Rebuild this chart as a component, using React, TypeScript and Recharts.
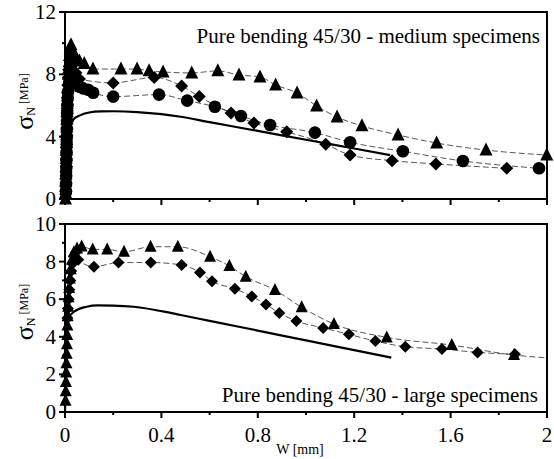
import React from 'react';
import { ComposedChart, Line, Scatter, XAxis, YAxis, ReferenceArea, Label } from 'recharts';

type P = { w: number; s: number };
const pts = (a: number[][]): P[] => a.map(([w, s]) => ({ w, s }));

const FONT = "'Liberation Serif', 'Times New Roman', serif";

// ---- axes ----
const xTicks = [0, 0.2, 0.4, 0.6, 0.8, 1, 1.2, 1.4, 1.6, 1.8, 2];
const xMajor = [0, 0.4, 0.8, 1.2, 1.6, 2];
const xLabels = ['0', '0.4', '0.8', '1.2', '1.6', '2'];
const topYTicks = [0, 2, 4, 6, 8, 10, 12];
const topYMajor = [0, 4, 8, 12];
const botYTicks = [0, 1, 2, 3, 4, 5, 6, 7, 8, 9, 10];
const botYMajor = [0, 2, 4, 6, 8, 10];

// ---- top panel: medium specimens ----
const topTriangles = pts([
  [0.002, 0.0], [0.0025, 0.4], [0.003, 0.8], [0.0035, 1.2], [0.004, 1.6], [0.0045, 2.0], [0.005, 2.4],
  [0.0055, 2.8], [0.006, 3.2], [0.0065, 3.6], [0.007, 4.0], [0.0075, 4.4], [0.008, 4.8], [0.0085, 5.2],
  [0.009, 5.6], [0.0095, 6.0], [0.010, 6.4], [0.011, 6.8], [0.012, 7.2], [0.013, 7.6], [0.014, 8.0],
  [0.0155, 8.4], [0.017, 8.8], [0.019, 9.2], [0.0215, 9.6], [0.025, 9.9], [0.032, 9.5],
  [0.045, 9.1], [0.06, 8.85], [0.08, 8.7], [0.116, 8.34], [0.232, 8.34], [0.299, 8.34], [0.349, 8.22],
  [0.407, 8.15], [0.526, 8.09], [0.634, 8.22], [0.722, 7.96], [0.809, 7.83], [0.874, 7.32],
  [0.963, 6.8], [1.044, 5.97], [1.129, 5.26], [1.232, 4.69], [1.382, 4.11], [1.542, 3.59],
  [1.747, 3.14], [1.999, 2.82],
]);
const topDiamonds = pts([
  [0.003, 0.3], [0.0035, 0.8], [0.004, 1.3], [0.0045, 1.8], [0.005, 2.3], [0.0055, 2.8], [0.006, 3.3],
  [0.0065, 3.8], [0.007, 4.3], [0.0075, 4.8], [0.008, 5.3], [0.009, 5.8], [0.010, 6.3], [0.011, 6.8],
  [0.012, 7.3], [0.0135, 7.8], [0.015, 8.3], [0.02, 8.9], [0.03, 8.6], [0.045, 8.1], [0.06, 7.7],
  [0.2, 7.45], [0.37, 7.8], [0.484, 7.25], [0.557, 6.57], [0.689, 5.52], [0.784, 4.88], [0.92, 4.32],
  [1.082, 3.51], [1.183, 2.82], [1.357, 2.46], [1.539, 2.25], [1.833, 1.97],
]);
const topCircles = pts([
  [0.004, 0.5], [0.0045, 1.0], [0.005, 1.5], [0.0055, 2.0], [0.006, 2.5], [0.0065, 3.0], [0.007, 3.5],
  [0.0075, 4.0], [0.008, 4.5], [0.0085, 5.0], [0.009, 5.5], [0.010, 6.0], [0.0115, 6.5], [0.013, 6.9],
  [0.018, 7.5], [0.026, 7.7], [0.04, 7.4], [0.06, 7.2], [0.075, 7.1], [0.097, 7.0], [0.117, 6.82],
  [0.2, 6.57], [0.39, 6.7], [0.507, 6.31], [0.622, 5.92], [0.73, 5.33], [0.851, 4.75],
  [1.037, 4.26], [1.183, 3.64], [1.402, 3.06], [1.651, 2.44], [1.967, 1.97],
]);
const topModel = pts([
  [0, 0], [0.01, 3.0], [0.02, 4.6], [0.035, 5.1], [0.06, 5.35], [0.1, 5.55], [0.15, 5.62], [0.2, 5.63],
  [0.3, 5.58], [0.4, 5.45], [0.48, 5.28], [0.6, 4.93], [0.8, 4.37], [1.0, 3.8], [1.2, 3.24], [1.349, 2.82],
]);

// ---- bottom panel: large specimens ----
const botTriangles = pts([
  [0.002, 0.6], [0.003, 1.1], [0.004, 1.6], [0.005, 2.1], [0.006, 2.6], [0.007, 3.1], [0.008, 3.6],
  [0.009, 4.1], [0.010, 4.6], [0.011, 5.1], [0.013, 5.6], [0.015, 6.1], [0.017, 6.6], [0.020, 7.1],
  [0.024, 7.6], [0.029, 8.1], [0.037, 8.5], [0.05, 8.7], [0.069, 8.8], [0.115, 8.65], [0.175, 8.65],
  [0.245, 8.52], [0.355, 8.79], [0.468, 8.79], [0.602, 8.26], [0.682, 7.77], [0.75, 7.2],
  [0.871, 6.49], [0.982, 5.57], [1.116, 4.68], [1.335, 3.97], [1.605, 3.56], [1.863, 3.03],
]);
const botTriangleTail = pts([[2, 2.88]]);
const botDiamonds = pts([
  [0.010, 5.0], [0.012, 5.5], [0.015, 6.0], [0.018, 6.5], [0.022, 7.0], [0.026, 7.5], [0.031, 7.9],
  [0.038, 8.3], [0.045, 8.5], [0.055, 8.1], [0.12, 7.73], [0.222, 7.95], [0.356, 7.95], [0.484, 7.82],
  [0.56, 7.42], [0.61, 6.95], [0.705, 6.55], [0.775, 6.15], [0.834, 5.72], [0.889, 5.27], [0.96, 4.84],
  [1.071, 4.47], [1.178, 4.13], [1.288, 3.77], [1.412, 3.47], [1.564, 3.35], [1.712, 3.17], [1.867, 3.07],
]);
const botModel = pts([
  [0, 0], [0.005, 3.0], [0.011, 4.95], [0.045, 5.4], [0.09, 5.6], [0.135, 5.67], [0.2, 5.66],
  [0.285, 5.6], [0.424, 5.31], [0.48, 5.16], [0.6, 4.85], [0.8, 4.33], [1.0, 3.81], [1.2, 3.29], [1.354, 2.89],
]);

const TS = 5;
const TM = 3;
const isIn = (arr: number[], v: number) => arr.findIndex((a) => Math.abs(a - v) < 1e-6);

const XTick = (props: any) => {
  const { x, y, payload, showLabel } = props;
  const i = isIn(xMajor, payload.value);
  const y0 = y - TS - TM;
  return (
    <g>
      <line x1={x} x2={x} y1={y0} y2={y0 + (i >= 0 ? 6 : 3)} stroke="#000" strokeWidth={2} />
      {showLabel && i >= 0 && (
        <text x={x} y={y0 + 30} textAnchor="middle" fontSize={21} fontFamily={FONT} fill="#000">
          {xLabels[i]}
        </text>
      )}
    </g>
  );
};

const YTick = (props: any) => {
  const { x, y, payload, majors } = props;
  const major = isIn(majors, payload.value) >= 0;
  const ax = x + TS + TM;
  return (
    <g>
      <line x1={ax} x2={ax - (major ? 6 : 3)} y1={y} y2={y} stroke="#000" strokeWidth={2} />
      {major && (
        <text x={ax - 9} y={y + 7} textAnchor="end" fontSize={21} fontFamily={FONT} fill="#000">
          {payload.value}
        </text>
      )}
    </g>
  );
};

const YLabel = (props: any) => {
  const vb = props.viewBox || { x: 0, y: 0, width: 65, height: 187 };
  const cx = 33;
  const cy = vb.y + vb.height / 2 + (props.shift || 0);
  return (
    <text transform={`rotate(-90, ${cx}, ${cy})`} x={cx} y={cy} textAnchor="middle" fontFamily={FONT} fill="#000">
      <tspan fontSize={26}>σ</tspan>
      <tspan fontSize={12} dy={2}>N</tspan>
      <tspan fontSize={12} dy={-7}> [MPa]</tspan>
    </text>
  );
};

const XLabel = (props: any) => {
  const vb = props.viewBox || { x: 65, y: 412, width: 482, height: 47 };
  return (
    <text x={vb.x + vb.width / 2 - 6} y={vb.y + 42} textAnchor="middle" fontSize={14} fontFamily={FONT} fill="#000">
      W [mm]
    </text>
  );
};

const Tri = (size: number) => (p: any) => {
  const { cx, cy } = p;
  if (cx == null || cy == null) return <g />;
  const h = size;
  return (
    <polygon
      points={`${cx},${cy - h * 0.58} ${cx + h * 0.5},${cy + h * 0.42} ${cx - h * 0.5},${cy + h * 0.42}`}
      fill="#000"
    />
  );
};
const Dia = (r: number) => (p: any) => {
  const { cx, cy } = p;
  if (cx == null || cy == null) return <g />;
  return <polygon points={`${cx},${cy - r} ${cx + r},${cy} ${cx},${cy + r} ${cx - r},${cy}`} fill="#000" />;
};
const Cir = (r: number) => (p: any) => {
  const { cx, cy } = p;
  if (cx == null || cy == null) return <g />;
  return <circle cx={cx} cy={cy} r={r} fill="#000" />;
};

const dashProps = {
  type: 'monotone' as const,
  dataKey: 's',
  stroke: '#444',
  strokeWidth: 0.9,
  strokeDasharray: '6 3',
  dot: false,
  activeDot: false,
  isAnimationActive: false,
};

const W = 554;

export default function App() {
  return (
    <div style={{ position: 'absolute', left: 0, top: 0, width: W, height: 459, background: '#fff' }}>
      <div style={{ position: 'absolute', left: 0, top: 0 }}>
        <ComposedChart width={W} height={212} margin={{ top: 12, right: 7, bottom: 0, left: 0 }}>
          <XAxis
            type="number"
            dataKey="w"
            domain={[0, 2]}
            ticks={xTicks}
            height={13}
            tickSize={TS}
            tickMargin={TM}
            tickLine={false}
            axisLine={{ stroke: '#000', strokeWidth: 2 }}
            tick={(p: any) => <XTick {...p} showLabel={false} />}
            interval={0}
          />
          <YAxis
            type="number"
            dataKey="s"
            domain={[0, 12]}
            ticks={topYTicks}
            width={65}
            tickSize={TS}
            tickMargin={TM}
            tickLine={false}
            axisLine={{ stroke: '#000', strokeWidth: 2 }}
            tick={(p: any) => <YTick {...p} majors={topYMajor} />}
            interval={0}
          >
            <Label content={(p: any) => <YLabel {...p} shift={-4} />} />
          </YAxis>
          <ReferenceArea x1={0} x2={2} y1={0} y2={12} fill="none" stroke="#000" strokeWidth={2} ifOverflow="visible" />
          <Line data={topTriangles} {...dashProps} />
          <Line data={topDiamonds} {...dashProps} />
          <Line data={topCircles} {...dashProps} />
          <Line data={topModel} type="monotone" dataKey="s" stroke="#000" strokeWidth={2.2} dot={false} activeDot={false} isAnimationActive={false} />
          <Scatter data={topTriangles} dataKey="s" shape={Tri(13)} isAnimationActive={false} />
          <Scatter data={topDiamonds} dataKey="s" shape={Dia(6.5)} isAnimationActive={false} />
          <Scatter data={topCircles} dataKey="s" shape={Cir(6.3)} isAnimationActive={false} />
        </ComposedChart>
      </div>
      <div style={{ position: 'absolute', left: 0, top: 212 }}>
        <ComposedChart width={W} height={247} margin={{ top: 12, right: 7, bottom: 0, left: 0 }}>
          <XAxis
            type="number"
            dataKey="w"
            domain={[0, 2]}
            ticks={xTicks}
            height={47}
            tickSize={TS}
            tickMargin={TM}
            tickLine={false}
            axisLine={{ stroke: '#000', strokeWidth: 2 }}
            tick={(p: any) => <XTick {...p} showLabel={true} />}
            interval={0}
          >
            <Label content={(p: any) => <XLabel {...p} />} />
          </XAxis>
          <YAxis
            type="number"
            dataKey="s"
            domain={[0, 10]}
            ticks={botYTicks}
            width={65}
            tickSize={TS}
            tickMargin={TM}
            tickLine={false}
            axisLine={{ stroke: '#000', strokeWidth: 2 }}
            tick={(p: any) => <YTick {...p} majors={botYMajor} />}
            interval={0}
          >
            <Label content={(p: any) => <YLabel {...p} shift={-6} />} />
          </YAxis>
          <ReferenceArea x1={0} x2={2} y1={0} y2={10} fill="none" stroke="#000" strokeWidth={2} ifOverflow="visible" />
          <Line data={[...botTriangles, ...botTriangleTail]} {...dashProps} />
          <Line data={botDiamonds} {...dashProps} />
          <Line data={botModel} type="monotone" dataKey="s" stroke="#000" strokeWidth={2.2} dot={false} activeDot={false} isAnimationActive={false} />
          <Scatter data={botDiamonds} dataKey="s" shape={Dia(6)} isAnimationActive={false} />
          <Scatter data={botTriangles} dataKey="s" shape={Tri(12)} isAnimationActive={false} />
        </ComposedChart>
      </div>
      <svg width={W} height={459} style={{ position: 'absolute', left: 0, top: 0, pointerEvents: 'none' }}>
        <text x={540} y={43} textAnchor="end" fontSize={21} fontFamily={FONT} fill="#000">
          Pure bending 45/30 - medium specimens
        </text>
        <text x={538} y={402} textAnchor="end" fontSize={21} fontFamily={FONT} fill="#000">
          Pure bending 45/30 - large specimens
        </text>
      </svg>
    </div>
  );
}
